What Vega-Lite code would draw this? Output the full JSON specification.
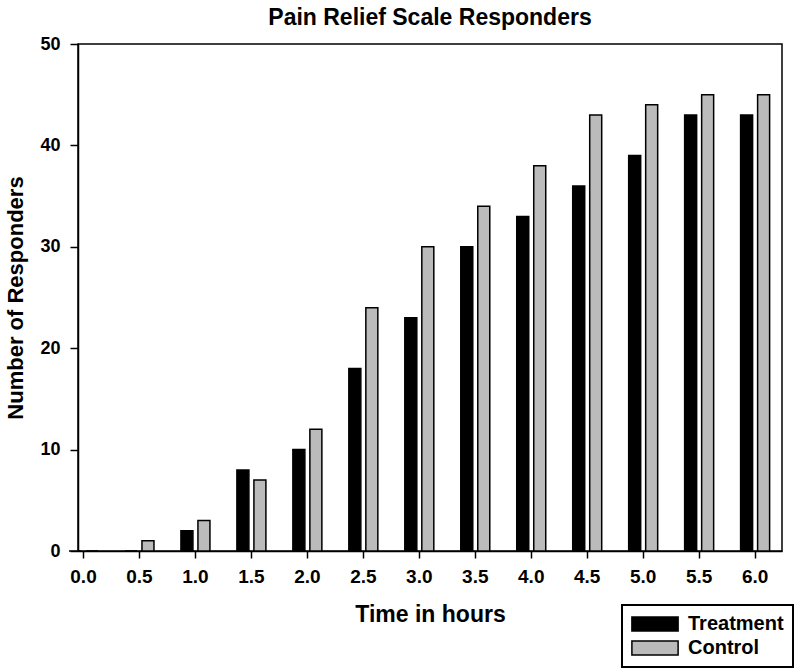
{
  "$schema": "https://vega.github.io/schema/vega-lite/v6.json",
  "width": 704,
  "height": 507,
  "autosize": {"type": "none"},
  "padding": {"left": 78, "top": 44, "right": 18, "bottom": 121},
  "background": "white",
  "title": {
    "text": "Pain Relief Scale Responders",
    "font": "Liberation Sans",
    "fontSize": 23,
    "fontWeight": "bold",
    "color": "black",
    "anchor": "middle",
    "offset": 5
  },
  "config": {
    "view": {"stroke": "black", "strokeWidth": 1.5},
    "font": "Liberation Sans"
  },
  "data": {
    "values": [
      {"time": 0.0, "group": "Treatment", "responders": 0},
      {"time": 0.0, "group": "Control", "responders": 0},
      {"time": 0.5, "group": "Treatment", "responders": 0},
      {"time": 0.5, "group": "Control", "responders": 1},
      {"time": 1.0, "group": "Treatment", "responders": 2},
      {"time": 1.0, "group": "Control", "responders": 3},
      {"time": 1.5, "group": "Treatment", "responders": 8},
      {"time": 1.5, "group": "Control", "responders": 7},
      {"time": 2.0, "group": "Treatment", "responders": 10},
      {"time": 2.0, "group": "Control", "responders": 12},
      {"time": 2.5, "group": "Treatment", "responders": 18},
      {"time": 2.5, "group": "Control", "responders": 24},
      {"time": 3.0, "group": "Treatment", "responders": 23},
      {"time": 3.0, "group": "Control", "responders": 30},
      {"time": 3.5, "group": "Treatment", "responders": 30},
      {"time": 3.5, "group": "Control", "responders": 34},
      {"time": 4.0, "group": "Treatment", "responders": 33},
      {"time": 4.0, "group": "Control", "responders": 38},
      {"time": 4.5, "group": "Treatment", "responders": 36},
      {"time": 4.5, "group": "Control", "responders": 43},
      {"time": 5.0, "group": "Treatment", "responders": 39},
      {"time": 5.0, "group": "Control", "responders": 44},
      {"time": 5.5, "group": "Treatment", "responders": 43},
      {"time": 5.5, "group": "Control", "responders": 45},
      {"time": 6.0, "group": "Treatment", "responders": 43},
      {"time": 6.0, "group": "Control", "responders": 45}
    ]
  },
  "encoding": {
    "x": {
      "field": "time",
      "type": "quantitative",
      "scale": {"domain": [0, 6.2], "nice": false, "zero": true},
      "axis": {
        "values": [0, 0.5, 1, 1.5, 2, 2.5, 3, 3.5, 4, 4.5, 5, 5.5, 6],
        "format": ".1f",
        "title": "Time in hours",
        "titleFont": "Liberation Sans",
        "titleFontSize": 23,
        "titleFontWeight": "bold",
        "titleColor": "black",
        "titlePadding": 17,
        "labelFont": "Liberation Sans",
        "labelFontSize": 19,
        "labelFontWeight": "bold",
        "labelColor": "black",
        "labelPadding": 9,
        "tickSize": 7,
        "tickColor": "black",
        "tickWidth": 1.5,
        "domainColor": "black",
        "domainWidth": 1.5,
        "grid": false,
        "labelFlush": false,
        "labelOverlap": false
      }
    },
    "y": {
      "field": "responders",
      "type": "quantitative",
      "scale": {"domain": [0, 50], "nice": false},
      "axis": {
        "values": [0, 10, 20, 30, 40, 50],
        "title": "Number of Responders",
        "titleFont": "Liberation Sans",
        "titleFontSize": 22,
        "titleFontWeight": "bold",
        "titleColor": "black",
        "titlePadding": 12,
        "labelFont": "Liberation Sans",
        "labelFontSize": 18,
        "labelFontWeight": "bold",
        "labelColor": "black",
        "labelPadding": 10,
        "tickSize": 8,
        "tickColor": "black",
        "tickWidth": 1.5,
        "domainColor": "black",
        "domainWidth": 1.5,
        "grid": false
      }
    },
    "fill": {
      "field": "group",
      "type": "nominal",
      "scale": {"domain": ["Treatment", "Control"], "range": ["#000000", "#bbbbbb"]},
      "legend": {
        "title": null,
        "orient": "none",
        "legendX": 544,
        "legendY": 561,
        "direction": "vertical",
        "strokeColor": "black",
        "fillColor": "white",
        "padding": 9,
        "symbolType": "M-3.3,-1H3.3V1H-3.3Z",
        "symbolSize": 196,
        "symbolOffset": 14,
        "symbolStrokeColor": "black",
        "symbolStrokeWidth": 1.5,
        "labelFont": "Liberation Sans",
        "labelFontSize": 20,
        "labelFontWeight": "bold",
        "labelColor": "black",
        "labelOffset": 23,
        "rowPadding": 4,
        "encode": {"legend": {"update": {"strokeWidth": {"value": 2}}}}
      }
    }
  },
  "layer": [
    {
      "transform": [{"filter": "datum.group === 'Treatment'"}],
      "mark": {"type": "bar", "width": 12, "xOffset": -8, "stroke": "black", "strokeWidth": 1.5}
    },
    {
      "transform": [{"filter": "datum.group === 'Control'"}],
      "mark": {"type": "bar", "width": 12, "xOffset": 9, "stroke": "black", "strokeWidth": 1.5}
    }
  ]
}
